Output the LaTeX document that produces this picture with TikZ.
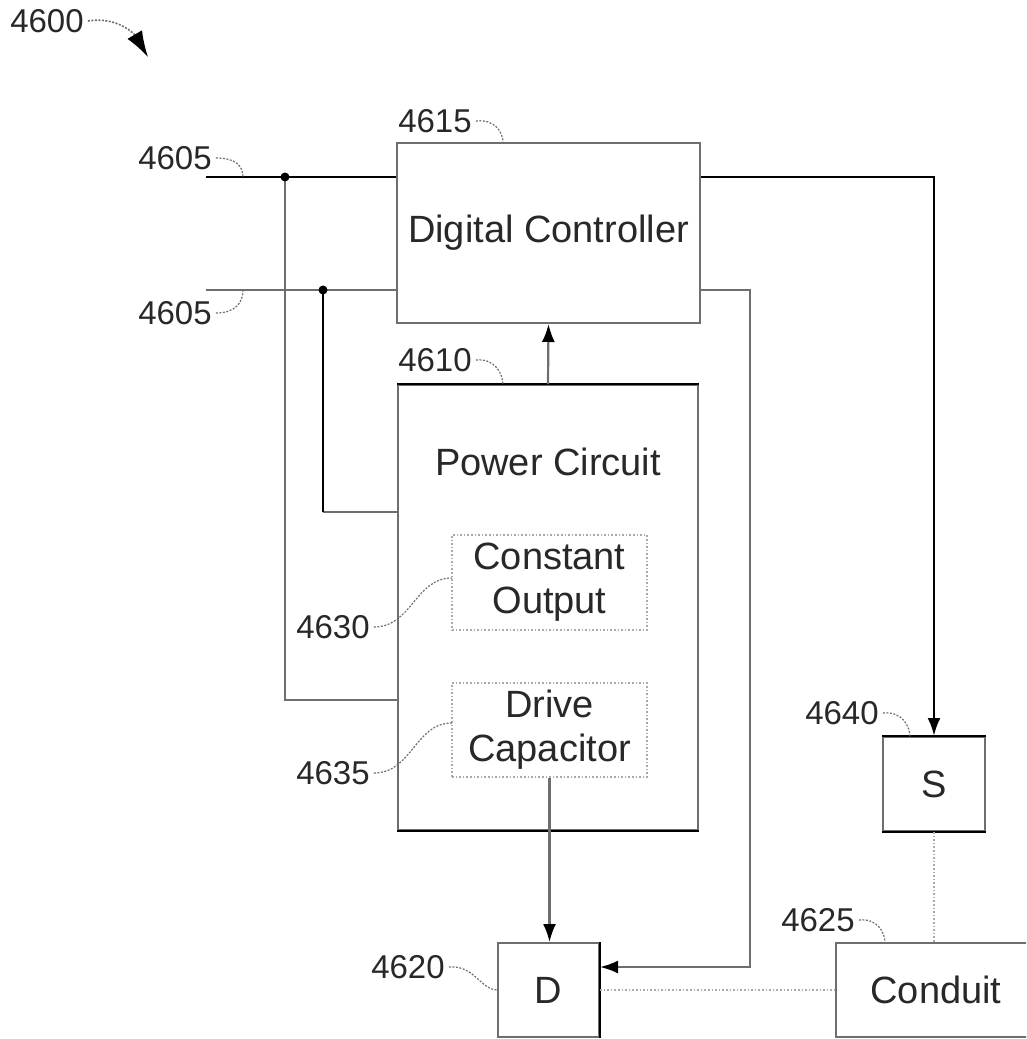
\documentclass[tikz,border=0pt]{standalone}
\usepackage{fontspec}
\setmainfont{Liberation Sans}
\usepackage{tikz}
\usetikzlibrary{arrows.meta,positioning,calc}
\definecolor{linegray}{RGB}{110,110,110}
\definecolor{dotgray}{RGB}{170,170,170}
\definecolor{inkgray}{RGB}{40,40,40}
\tikzset{
  unit/.style    ={rectangle, draw=linegray, line width=2pt, inner sep=0pt,
                   text=inkgray, font=\fontsize{38}{46}\selectfont, align=center},
  subunit/.style ={rectangle, draw=dotgray, dotted, line width=1.6pt, inner sep=0pt,
                   text=inkgray, font=\fontsize{38}{44}\selectfont, align=center},
  wire/.style    ={draw=linegray, line width=2.2pt},
  bwire/.style   ={draw=black, line width=2.8pt},
  faint/.style   ={draw=dotgray, dotted, line width=1.6pt},
  flow/.style    ={-{Latex[length=18pt,width=13pt,color=black]}},
  lead/.style    ={draw=linegray, line width=1.2pt, dashed, dash pattern=on 2pt off 1.5pt},
  refnum/.style  ={font=\fontsize{33}{36}\selectfont, text=inkgray, inner sep=0pt},
  jdot/.style    ={fill=black}
}
\begin{document}
\begin{tikzpicture}[x=1pt, y=-1pt]
\useasboundingbox (0,0) rectangle (1026,1039);
\clip (0,0) rectangle (1026,1039);
% ---- Blocks ----
\node[unit, minimum width=303pt, minimum height=180pt] (dc) at (548.5,233) {Digital Controller};
\node[unit, minimum width=300pt, minimum height=445pt] (pc) at (548,607.5) {};
\node[text=inkgray, font=\fontsize{38}{46}\selectfont, inner sep=0pt] (pclbl) at (548,462) {Power Circuit};
\node[subunit, minimum width=195pt, minimum height=95pt] (cout) at (549.5,582.5) {Constant\\Output};
\node[subunit, minimum width=195pt, minimum height=94pt] (cap) at (549.5,730) {Drive\\Capacitor};
\node[unit, minimum width=102pt, minimum height=94pt] (s) at (934,784) {S};
\node[unit, minimum width=101pt, minimum height=94pt] (d) at (548.5,990) {D};
\node[unit, minimum width=200pt, minimum height=94pt] (cond) at (936,990) {Conduit};
% solid edges
\draw[bwire] (pc.north west) -- (pc.north east);
\draw[bwire] (pc.south west) -- (pc.south east);
\draw[bwire] (s.north west) -- (s.north east);
\draw[bwire] (s.south west) -- (s.south east);
\draw[bwire] (d.north east) -- (d.south east);

% ---- Inputs ----
\coordinate (in1) at (206,177);
\coordinate (in2) at (206,290);
\coordinate (j1) at (285,177);
\coordinate (j2) at (323,290);
\coordinate (t1) at (285,700);
\coordinate (t2) at (323,512);
\coordinate (r2) at (750,967);
\draw[wire] (in2) -- (dc.west |- in2);
\draw[wire] (j1) |- (pc.west |- t1);
\draw[wire] (t2) -- (pc.west |- t2);
\draw[bwire] (j2) -- (t2);
\draw[bwire] (in1) -- (dc.west |- in1);
\fill[jdot] (j1) circle (4.5);
\fill[jdot] (j2) circle (4.5);

% ---- Edges ----
\draw[bwire, flow] (dc.east |- in1) -| (s.north);
\draw[wire, flow] (dc.east |- in2) -| (r2) -- (d.east |- r2);
\draw[wire, flow] (pc.north) -- (dc.south);
\draw[wire, flow] (cap.south) -- (cap.south |- d.north);
\draw[faint] (s.south) -- (s.south |- cond.north);
\draw[faint] (d.east) -- (cond.west);

% ---- Reference numerals ----
\node[refnum] (n4600) at (47,21) {4600};
\node[refnum] (n4605a) at (175,158) {4605};
\node[refnum] (n4605b) at (175,313) {4605};
\node[refnum] (n4615) at (435,121) {4615};
\node[refnum] (n4610) at (435,360) {4610};
\node[refnum] (n4630) at (333,627) {4630};
\node[refnum] (n4635) at (333,773) {4635};
\node[refnum] (n4640) at (842,713) {4640};
\node[refnum] (n4625) at (818,920) {4625};
\node[refnum] (n4620) at (408,967) {4620};
\coordinate (p4605a) at (243,177);
\coordinate (p4605b) at (243,290);
\coordinate (p4615) at (503,143);
\coordinate (p4610) at (503,385);
\coordinate (p4630) at (452,578);
\coordinate (p4635) at (452,723);
\coordinate (p4640) at (910,737);
\coordinate (p4625) at (885,943);
\coordinate (p4620) at (498,990);
\draw[lead, line width=1.6pt, -{Latex[length=26pt,width=17pt,color=black]}] ([xshift=4pt]n4600.east)
  .. controls (118,16) and (135,35) .. (148,57);
\draw[lead] ([xshift=4pt]n4605a.east) .. controls (236,158) and (243,166) .. (p4605a);
\draw[lead] ([xshift=4pt]n4605b.east) .. controls (236,313) and (243,302) .. (p4605b);
\draw[lead] ([xshift=4pt]n4615.east) .. controls (495,119) and (503,132) .. (p4615);
\draw[lead] ([xshift=4pt]n4610.east) .. controls (495,358) and (503,374) .. (p4610);
\draw[lead] ([xshift=4pt]n4630.east) .. controls (412,627) and (415,578) .. (p4630);
\draw[lead] ([xshift=4pt]n4635.east) .. controls (412,773) and (415,723) .. (p4635);
\draw[lead] ([xshift=4pt]n4640.east) .. controls (902,711) and (910,726) .. (p4640);
\draw[lead] ([xshift=4pt]n4625.east) .. controls (877,918) and (885,932) .. (p4625);
\draw[lead] ([xshift=4pt]n4620.east) .. controls (475,965) and (480,990) .. (p4620);
\end{tikzpicture}
\end{document}
